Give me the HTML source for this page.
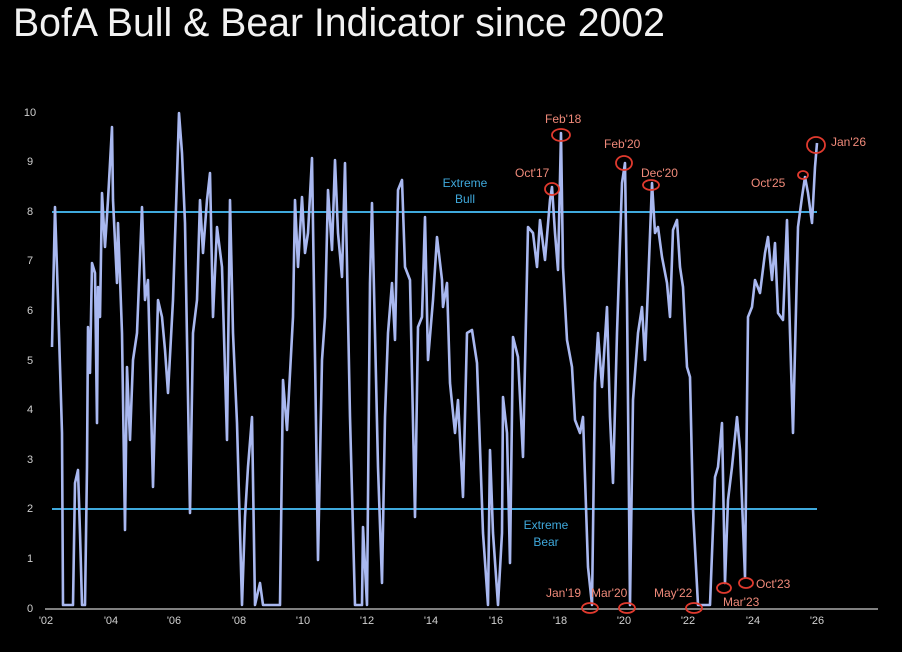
<!DOCTYPE html>
<html><head><meta charset="utf-8"><style>
html,body{margin:0;padding:0;background:#000;}
svg{display:block;}
text{font-family:"Liberation Sans Narrow","Liberation Sans",sans-serif;}
</style></head><body>
<svg width="902" height="652" viewBox="0 0 902 652" xmlns="http://www.w3.org/2000/svg">
<rect width="902" height="652" fill="#000"/>
<text x="13" y="36" font-size="40" fill="#f2f2f2" textLength="652" lengthAdjust="spacingAndGlyphs">BofA Bull &amp; Bear Indicator since 2002</text>
<g font-size="11" fill="#d0d0d0" text-anchor="middle">
<text x="30" y="116">10</text><text x="30" y="165">9</text><text x="30" y="215">8</text><text x="30" y="264">7</text><text x="30" y="314">6</text><text x="30" y="364">5</text><text x="30" y="413">4</text><text x="30" y="463">3</text><text x="30" y="512">2</text><text x="30" y="562">1</text><text x="30" y="612">0</text>
<text x="46" y="624">'02</text><text x="111" y="624">'04</text><text x="174" y="624">'06</text><text x="239" y="624">'08</text><text x="303" y="624">'10</text><text x="367" y="624">'12</text><text x="431" y="624">'14</text><text x="496" y="624">'16</text><text x="560" y="624">'18</text><text x="624" y="624">'20</text><text x="688" y="624">'22</text><text x="753" y="624">'24</text><text x="817" y="624">'26</text>
</g>
<line x1="45" y1="609" x2="878" y2="609" stroke="#aaa" stroke-width="1.5"/>
<line x1="52" y1="212" x2="817" y2="212" stroke="#3fa9dc" stroke-width="2"/>
<line x1="52" y1="509" x2="817" y2="509" stroke="#3fa9dc" stroke-width="2"/>
<polyline fill="none" stroke="#a9b8f0" stroke-width="2.6" stroke-linejoin="round" points="52,347 55,207 58,300 62,433 63,605 73,605 75,483 78,470 80,533 82,605 85,605 87,467 88,327 90,373 92,263 95,273 97,423 98,287 100,317 102,193 105,247 108,200 112,127 113,200 117,283 118,223 122,333 125,530 127,367 130,440 133,360 137,333 142,207 145,300 148,280 153,487 158,300 162,317 165,350 168,393 173,300 177,177 179,113 182,153 185,223 190,513 193,333 197,300 200,200 203,253 207,200 210,173 213,317 217,227 222,267 227,440 230,200 233,333 237,423 242,605 245,517 248,467 252,417 255,605 260,583 263,605 280,605 283,380 287,430 293,317 295,200 298,267 302,197 305,253 308,233 312,158 315,357 318,560 322,360 325,317 328,190 332,250 335,160 338,233 342,277 345,163 350,417 355,605 362,605 363,527 367,605 370,283 372,203 375,333 378,467 382,583 385,417 388,333 392,283 395,340 398,190 402,180 405,267 410,280 415,517 418,327 422,317 425,217 428,360 433,300 437,237 442,280 443,307 447,283 450,383 455,433 458,400 463,497 467,333 472,330 477,363 483,533 488,605 490,450 493,533 498,605 502,533 503,397 507,433 510,563 513,337 518,357 523,457 528,227 533,233 537,267 540,220 545,260 550,200 552,187 555,233 558,270 561,133 563,267 567,340 572,367 575,420 580,433 583,417 588,567 592,605 595,383 598,333 602,387 607,307 610,417 613,483 617,333 622,183 625,163 627,300 630,605 633,400 638,333 642,307 645,360 648,287 652,183 655,233 658,227 662,257 667,283 670,317 673,230 677,220 680,267 683,287 687,367 690,377 693,510 698,605 710,605 715,477 718,467 722,423 725,583 728,500 732,467 737,417 740,450 745,577 748,317 752,307 755,280 760,293 765,253 768,237 772,280 775,243 778,313 783,320 787,220 790,333 793,433 798,227 802,197 805,177 808,193 812,223 815,167 817,143"/>
<g font-size="12" fill="#3fa9dc" text-anchor="middle">
<text x="465" y="187">Extreme</text><text x="465" y="203">Bull</text>
<text x="546" y="529">Extreme</text><text x="546" y="546">Bear</text>
</g>
<g fill="none" stroke="#e03a2e" stroke-width="1.8">
<ellipse cx="561" cy="135" rx="9" ry="6"/>
<ellipse cx="552" cy="189" rx="7" ry="6"/>
<ellipse cx="624" cy="163" rx="8" ry="7"/>
<ellipse cx="651" cy="185" rx="8" ry="5"/>
<ellipse cx="816" cy="145" rx="9" ry="8"/>
<ellipse cx="803" cy="175" rx="5" ry="4"/>
<ellipse cx="590" cy="608" rx="8" ry="5"/>
<ellipse cx="627" cy="608" rx="8" ry="5"/>
<ellipse cx="694" cy="608" rx="8" ry="5"/>
<ellipse cx="724" cy="588" rx="7" ry="5"/>
<ellipse cx="746" cy="583" rx="7" ry="5"/>
</g>
<g font-size="12" fill="#f08a7a">
<text x="545" y="123">Feb'18</text>
<text x="515" y="177">Oct'17</text>
<text x="604" y="148">Feb'20</text>
<text x="641" y="177">Dec'20</text>
<text x="831" y="146">Jan'26</text>
<text x="751" y="187">Oct'25</text>
<text x="546" y="597">Jan'19</text>
<text x="591" y="597">Mar'20</text>
<text x="654" y="597">May'22</text>
<text x="723" y="606">Mar'23</text>
<text x="756" y="588">Oct'23</text>
</g>
</svg>
</body></html>
